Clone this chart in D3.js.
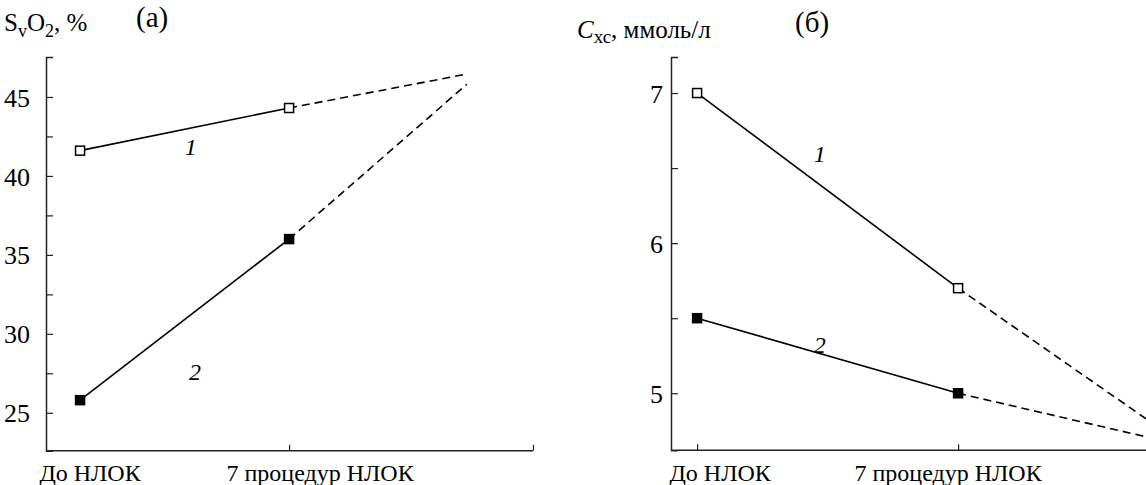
<!DOCTYPE html>
<html><head><meta charset="utf-8">
<script src="https://cdn.jsdelivr.net/npm/d3@7/dist/d3.min.js"></script>
<style>
body{margin:0;background:#fff}
svg text, svg tspan{font-family:'Liberation Serif', 'Times New Roman', serif !important;}
</style>
</head><body><svg id="c" width="1146" height="485" font-family="Liberation Serif"></svg>
<script>
// ---- data ----
const categories = ["До НЛОК", "7 процедур НЛОК"];
// panel (a): SvO2, %
const aSeries1 = [41.6, 44.3];      // open squares, curve 1
const aSeries2 = [25.8, 36.0];      // filled squares, curve 2
const aSeries1Ext = 46.45;          // dashed extension end value
const aSeries2Ext = 45.8;
const aTicks = [25, 30, 35, 40, 45];
const aMinor = [27.5, 32.5, 37.5, 42.5];
// panel (б): Cxc, ммоль/л
const bSeries1 = [7.0, 5.7];
const bSeries2 = [5.5, 5.0];
const bSeries1Ext = 4.83;
const bSeries2Ext = 4.71;
const bTicks = [5, 6, 7];
const bMinor = [5.5, 6.5];

const svg = d3.select("#c");

function panel(cfg){
  const g = svg.append("g");
  const x = d3.scaleLinear().domain(cfg.xDomain).range(cfg.xRange);
  const y = d3.scaleLinear().domain(cfg.yDomain).range(cfg.yRange);
  const stroke = "#222";
  const yAxis = d3.axisLeft(y).tickValues(cfg.ticks).tickSize(-7).tickPadding(cfg.pad).tickFormat(d3.format("d"));
  const ya = g.append("g").attr("transform",`translate(${cfg.xRange[0]},0)`).call(yAxis)
    .attr("font-family","Liberation Serif").attr("font-size",26);
  ya.select(".domain").attr("stroke",stroke).attr("stroke-width",1.5);
  ya.selectAll(".tick line").attr("stroke",stroke).attr("stroke-width",1.2);
  ya.selectAll(".tick text").attr("dy","0.35em").attr("fill","#000");
  const ym = d3.axisLeft(y).tickValues(cfg.minor).tickSize(-7).tickFormat("");
  const yb = g.append("g").attr("transform",`translate(${cfg.xRange[0]},0)`).call(ym);
  yb.select(".domain").remove();
  yb.selectAll(".tick line").attr("stroke",stroke).attr("stroke-width",1.2);
  const xAxis = d3.axisBottom(x).tickValues(cfg.xTicks).tickSize(-6).tickFormat("");
  const xa = g.append("g").attr("transform",`translate(0,${cfg.yRange[0]})`).call(xAxis);
  xa.select(".domain").attr("stroke",stroke).attr("stroke-width",1.5).attr("d",`M${cfg.xRange[0]},0H${cfg.xRange[1]}`);
  xa.selectAll(".tick line").attr("stroke",stroke).attr("stroke-width",1.2);
  g.selectAll(".cat").data(categories).enter().append("text")
    .attr("x",(d,i)=>x(i)+cfg.labelOffsets[i]).attr("y",481)
    .attr("text-anchor","middle").attr("font-size",24).text(d=>d);
  const line = d3.line().x(d=>x(d[0])).y(d=>y(d[1]));
  const clipId = cfg.id+"clip";
  g.append("clipPath").attr("id",clipId).append("rect")
    .attr("x",cfg.xRange[0]).attr("y",0).attr("width",cfg.xRange[1]-cfg.xRange[0]+5).attr("height",485);
  const lines = g.append("g").attr("clip-path",`url(#${clipId})`);
  [[cfg.s1,cfg.e1],[cfg.s2,cfg.e2]].forEach(([s,e])=>{
    lines.append("path").attr("d",line([[0,s[0]],[1,s[1]]])).attr("fill","none").attr("stroke","#000").attr("stroke-width",1.6);
    lines.append("path").attr("d",line([[1,s[1]],[cfg.extX,e]])).attr("fill","none").attr("stroke","#000").attr("stroke-width",1.6).attr("stroke-dasharray","8,5");
  });
  const sz = 9;
  [[cfg.s1,"#fff"],[cfg.s2,"#000"]].forEach(([s,f])=>{
    g.selectAll(null).data(s).enter().append("rect")
      .attr("x",(d,i)=>x(i)-sz/2).attr("y",d=>y(d)-sz/2).attr("width",sz).attr("height",sz)
      .attr("fill",f).attr("stroke","#000").attr("stroke-width",1.5);
  });
  cfg.curveLabels.forEach(c=>{
    g.append("text").attr("x",x(c.x)).attr("y",y(c.y)).attr("text-anchor","middle")
      .attr("font-size",24).attr("font-style","italic").text(c.t);
  });
  return g;
}

panel({id:"a", xDomain:[-0.163,2.167], xRange:[46,533], yDomain:[22.6,47.53], yRange:[450.7,57],
  ticks:aTicks, minor:aMinor, xTicks:[1,2.167], labelOffsets:[10,31], pad:16,
  s1:aSeries1, s2:aSeries2, e1:aSeries1Ext, e2:aSeries2Ext, extX:1.85,
  curveLabels:[{x:0.53,y:41.3,t:"1"},{x:0.55,y:27.1,t:"2"}]});

panel({id:"b", xDomain:[-0.1,1.72], xRange:[671,1146], yDomain:[4.62,7.24], yRange:[450.3,57],
  ticks:bTicks, minor:bMinor, xTicks:[0,1], labelOffsets:[23,-10], pad:8,
  s1:bSeries1, s2:bSeries2, e1:bSeries1Ext, e2:bSeries2Ext, extX:1.72,
  curveLabels:[{x:0.47,y:6.54,t:"1"},{x:0.47,y:5.27,t:"2"}]});

const t1 = svg.append("text").attr("x",4).attr("y",31).attr("font-size",25);
t1.append("tspan").text("S");
t1.append("tspan").text("v").attr("dy",6).attr("font-size",18);
t1.append("tspan").text("O").attr("dy",-6);
t1.append("tspan").text("2").attr("dy",6).attr("font-size",18);
t1.append("tspan").text(", %").attr("dy",-6);
svg.append("text").attr("x",136).attr("y",27).attr("font-size",29).text("(a)");
const t2 = svg.append("text").attr("x",577).attr("y",38).attr("font-size",25);
t2.append("tspan").text("C").attr("font-style","italic");
t2.append("tspan").text("хс").attr("dy",5).attr("font-size",19);
t2.append("tspan").text(", ммоль/л").attr("dy",-5);
svg.append("text").attr("x",795).attr("y",32).attr("font-size",29).text("(б)");

svg.selectAll("text").attr("font-family","Liberation Serif").attr("fill","#000");
</script></body></html>
